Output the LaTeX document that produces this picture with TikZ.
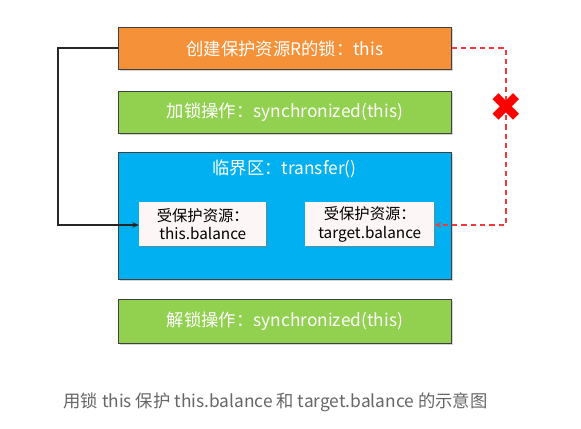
\documentclass[tikz,border=0pt]{standalone}
\usepackage{fontspec}
\setmainfont{Noto Sans CJK SC}
\newfontfamily\symfont{DejaVu Sans}
\usetikzlibrary{shadows,arrows.meta}
\definecolor{orangebox}{HTML}{F59138}
\definecolor{greenbox}{HTML}{92D050}
\definecolor{bluebox}{HTML}{00B0F0}
\definecolor{innerbox}{HTML}{FDF6F6}
\definecolor{capgray}{HTML}{666666}
\definecolor{redline}{HTML}{F23A3A}
\begin{document}
\begin{tikzpicture}[x=0.75pt,y=-0.75pt,
  bigbox/.style={draw=black!75,line width=0.6pt,minimum width=333*0.75pt,anchor=north west,
    text=white,font=\fontsize{13}{15}\selectfont,drop shadow={shadow xshift=1pt,shadow yshift=-1.5pt,opacity=0.35}},
  smallbox/.style={draw=none,fill=innerbox,anchor=north west,minimum height=44*0.75pt,
    font=\fontsize{11.5}{14}\selectfont,align=center,inner sep=0pt,
    drop shadow={shadow xshift=1pt,shadow yshift=-1.5pt,opacity=0.35}},
  conn/.style={line width=0.8pt,-{Stealth[length=5pt,width=4pt]}}]
\useasboundingbox (0,0) rectangle (581,428);
\node[bigbox,fill=orangebox,minimum height=42*0.75pt] (lock) at (118,27) {创建保护资源R的锁：this};
\node[bigbox,fill=greenbox,minimum height=42*0.75pt] (acq) at (118,91) {加锁操作：synchronized(this)};
\node[bigbox,fill=bluebox,minimum height=127*0.75pt] (crit) at (118,152) {};
\node[text=white,font=\fontsize{13}{15}\selectfont] (crittitle) at (284.5,169) {临界区：transfer()};
\node[smallbox,minimum width=127*0.75pt] (res1) at (139,202) {受保护资源：\\this.balance};
\node[smallbox,minimum width=129*0.75pt] (res2) at (305,202) {受保护资源：\\target.balance};
\node[bigbox,fill=greenbox,minimum height=44*0.75pt] (rel) at (118,299) {解锁操作：synchronized(this)};
\node[text=capgray,font=\fontsize{13}{15}\selectfont] (cap) at (275.5,402) {用锁 this 保护 this.balance 和 target.balance 的示意图};
\coordinate (lt) at (58,48);
\coordinate (lb) at (58,225);
\coordinate (rt) at (506,48);
\coordinate (rb) at (506,225);
\draw[conn,black!85] (lock.west |- lt) -- (lt) -- (lb) -- (res1.west |- lb);
\draw[conn,redline,dashed,dash pattern=on 4pt off 3pt] (lock.east |- rt) -- (rt) -- (rb) -- (res2.east |- rb);
\node[text=red,font=\symfont\fontsize{30}{30}\selectfont,inner sep=0pt] (cross) at (506,108) {✖};
\end{tikzpicture}
\end{document}
